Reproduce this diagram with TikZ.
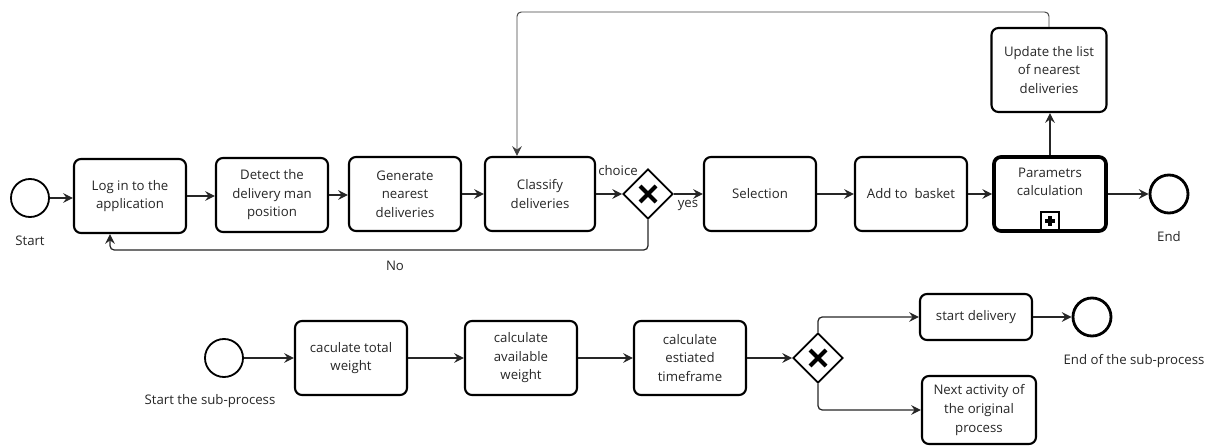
\documentclass[tikz,border=0pt]{standalone}
\usepackage{fontspec}
\setmainfont{Open Sans}
\usetikzlibrary{arrows.meta,shapes.geometric}

\begin{document}
\begin{tikzpicture}[x=0.025cm, y=-0.025cm,
    every node/.style={font=\fontsize{9.4}{13.2}\selectfont, text=black!85},
    task/.style={draw=black, rectangle, rounded corners=5pt, line width=1.5pt,
      minimum width=2.8cm, minimum height=1.85cm, align=center, inner sep=2pt},
    event/.style={draw=black, circle, line width=1.3pt, minimum size=0.95cm, inner sep=0},
    endevent/.style={event, line width=2pt},
    gateway/.style={draw=black, diamond, line width=1.3pt, minimum width=1.25cm,
      minimum height=1.25cm, inner sep=0},
    flow/.style={draw=black!85, line width=0.9pt, -{Stealth[length=7pt, width=7pt, inset=2.5pt]}},
    cross/.style={line width=3pt, black}]
      \useasboundingbox (0,0) rectangle (1213,447);
      % main process
      \node[event, label={[label distance=0.32cm]below:Start}] (start) at (30,198) {};
      \node[task] (login) at (130,196) {Log in to the\\application};
      \node[task] (detect) at (272,195) {Detect the\\delivery man\\position};
      \node[task] (gen) at (405,194) {Generate\\nearest\\deliveries};
      \node[task, minimum width=2.75cm] (cls) at (540,194) {Classify\\deliveries};
      \node[gateway] (gw1) at (648,194) {};
      \node[task] (sel) at (760,194) {Selection};
      \node[task] (basket) at (911,194) {Add to\ \ basket};
      \node[task, line width=2.6pt] (param) at (1050,194) {Parametrs\\calculation\\ \strut};
      \node[draw=black, line width=1.2pt, minimum size=0.45cm, inner sep=0, anchor=south] (marker) at ([yshift=1.3pt]param.south) {};
      \node[task, minimum width=2.875cm, minimum height=2.1cm] (upd) at (1049,70) {Update the list\\of nearest\\deliveries};
      \node[endevent, label={[label distance=0.3cm]below:End}] (end) at (1169,194) {};
      \node (lchoice) at (618,171) {choice};
      \node (lyes) at (688,205) {yes};
      \node (lno) at (395,266) {No};
      \coordinate (loop) at (517,12);
      \coordinate (noback) at (110,250);
      % sub-process
      \node[event, label={[label distance=0.3cm, xshift=-0.35cm]below:Start the sub-process}] (substart) at (224,358) {};
      \node[task] (total) at (351,358) {caculate total\\weight};
      \node[task] (avail) at (521,358) {calculate\\available\\weight};
      \node[task] (time) at (690,358) {calculate\\estiated\\timeframe};
      \node[gateway] (gw2) at (818,358) {};
      \node[task, minimum height=1.15cm] (deliv) at (976,317) {start delivery};
      \node[task, minimum width=2.85cm, minimum height=1.7cm] (next) at (979,410) {Next activity of\\the original\\process};
      \node[endevent, label={[label distance=0.3cm, xshift=1.05cm]below:End of the sub-process}] (subend) at (1092,317) {};
      % gateway crosses and marker
      \foreach \g in {gw1,gw2} {
        \draw[cross] ([shift={(-8,-8)}]\g.center) -- ([shift={(8,8)}]\g.center);
        \draw[cross] ([shift={(-8,8)}]\g.center) -- ([shift={(8,-8)}]\g.center);
      }
      \draw[line width=2.4pt] ([shift={(-5,0)}]marker.center) -- ([shift={(5,0)}]marker.center);
      \draw[line width=2.4pt] ([shift={(0,-5)}]marker.center) -- ([shift={(0,5)}]marker.center);
      % flows
      \foreach \a/\b in {start/login, login/detect, detect/gen, gen/cls, cls/gw1, gw1/sel,
        sel/basket, basket/param, param/end, substart/total, total/avail, avail/time,
        time/gw2, deliv/subend}
        \draw[flow] (\a) -- (\a -| \b.west);
      \draw[flow] (param) -- (param |- upd.south);
      \draw[flow, draw=black!75, line width=0.7pt, rounded corners=3pt] (upd.north) |- (loop) -- (loop |- cls.north);
      \draw[flow, rounded corners=3pt] (gw1.south) |- (noback) -- (noback |- login.south);
      \draw[flow, rounded corners=3pt] (gw2.north) |- (deliv);
      \draw[flow, rounded corners=3pt] (gw2.south) |- (next);
    \end{tikzpicture}
\end{document}
